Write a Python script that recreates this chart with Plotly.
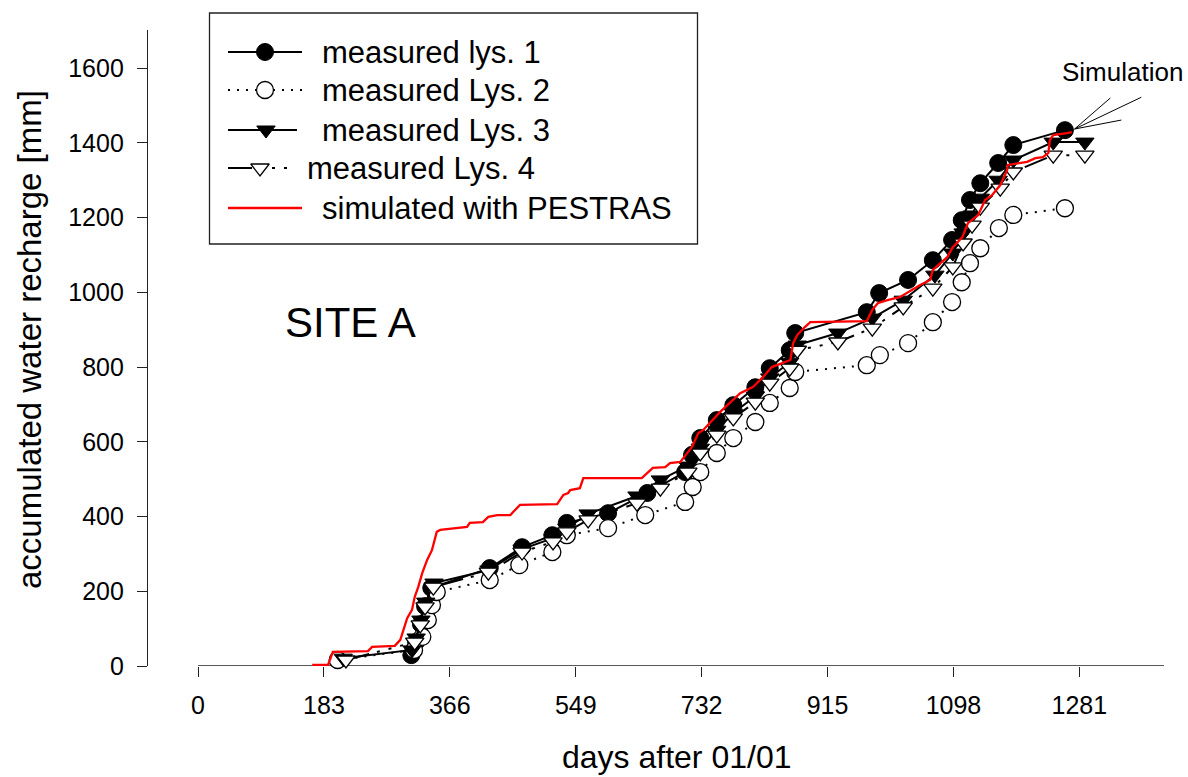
import plotly.graph_objects as go

W, H = 1188, 777

# ---------------- data ----------------
x_tick_vals = [0, 183, 366, 549, 732, 915, 1098, 1281]
y_tick_vals = [0, 200, 400, 600, 800, 1000, 1200, 1400, 1600]

lys1_day = [310, 317, 324, 330, 339, 424, 471, 515, 536, 596, 653, 708, 718, 730, 754, 778,
            810, 831, 860, 868, 972, 990, 1032, 1068, 1096, 1110, 1122, 1137, 1163, 1185, 1260]
lys1_val = [29, 64, 112, 160, 209, 262, 318, 350, 383, 409, 463, 519, 565, 610, 658, 698,
            746, 797, 845, 891, 947, 998, 1033, 1086, 1140, 1193, 1247, 1292, 1346, 1394, 1434]

lys2_day = [203, 314, 326, 334, 340, 347, 424, 467, 515, 536, 596, 650, 708, 719, 730, 754,
            778, 810, 831, 860, 868, 972, 991, 1032, 1068, 1096, 1110, 1122, 1137, 1164, 1185, 1260]
lys2_val = [16, 43, 78, 123, 163, 198, 230, 270, 305, 350, 369, 404, 439, 479, 519, 570,
            610, 653, 704, 744, 787, 805, 832, 864, 920, 974, 1027, 1078, 1118, 1172, 1207, 1225]

lys3_day = [211, 311, 317, 324, 331, 343, 423, 471, 516, 536, 567, 638, 672, 712, 730, 754,
            778, 810, 831, 860, 871, 930, 980, 1025, 1071, 1097, 1112, 1125, 1137, 1163, 1185, 1243, 1289]
lys3_val = [21, 43, 75, 123, 171, 222, 257, 313, 342, 369, 407, 455, 498, 535, 583, 631,
            677, 722, 771, 813, 859, 891, 931, 979, 1046, 1105, 1159, 1207, 1252, 1300, 1354, 1402, 1402]

lys4_day = [215, 315, 323, 330, 342, 422, 471, 516, 536, 567, 638, 672, 712, 730, 754, 778,
            810, 831, 860, 871, 930, 980, 1025, 1068, 1097, 1112, 1125, 1137, 1166, 1185, 1243, 1289]
lys4_val = [16, 64, 110, 158, 211, 251, 305, 332, 359, 391, 436, 476, 519, 570, 618, 664,
            706, 757, 797, 845, 867, 904, 961, 1011, 1068, 1132, 1180, 1228, 1279, 1322, 1367, 1367]

sim_day = [166, 189, 196, 247, 253, 286, 294, 298, 304, 311, 315, 320, 326, 333, 340, 347, 352,
           391, 395, 414, 422, 435, 454, 458, 468, 522, 526, 531, 538, 541, 555, 560, 645, 650,
           661, 679, 686, 701, 711, 718, 727, 734, 759, 788, 807, 821, 834, 861, 865, 871, 882,
           890, 972, 980, 988, 1002, 1020, 1049, 1064, 1068, 1089, 1097, 1111, 1119, 1134, 1144,
           1154, 1166, 1176, 1177, 1205, 1217, 1228, 1236, 1238, 1243, 1263, 1270]
sim_val = [3, 3, 38, 40, 51, 54, 70, 91, 128, 150, 185, 211, 249, 284, 310, 359, 364,
           372, 383, 385, 399, 404, 404, 412, 431, 433, 444, 458, 463, 471, 476, 503, 503, 511,
           530, 532, 543, 546, 570, 586, 623, 631, 680, 730, 747, 773, 800, 819, 864, 886, 907,
           920, 923, 953, 971, 979, 987, 1019, 1033, 1060, 1094, 1121, 1148, 1185, 1207, 1247,
           1260, 1287, 1327, 1341, 1349, 1359, 1362, 1373, 1407, 1421, 1426, 1429]

# "Simulation" pointer: origin and three end points (data units)
ptr_origin = (1274, 1437)
ptr_ends_day = [1326, 1371, 1342]
ptr_ends_val = [1520, 1522, 1461]

legend_labels = ["measured lys. 1", "measured Lys. 2", "measured Lys. 3",
                 "measured Lys. 4", "simulated with PESTRAS"]

# ---------------- styles ----------------
FONT = "Liberation Sans, Arial, Helvetica, sans-serif"
AX = "#222222"
X_RANGE = [-72.7, 1404]
Y_RANGE = [0, 1702]

fig = go.Figure()

s1 = dict(mode="lines+markers", line=dict(color="black", width=2),
          marker=dict(symbol="circle", size=17, color="black", line=dict(color="black", width=1)))
s2 = dict(mode="lines+markers", line=dict(color="black", width=2, dash="2px,7px"),
          marker=dict(symbol="circle", size=17, color="white", line=dict(color="black", width=1.3)))
s3 = dict(mode="lines+markers", line=dict(color="black", width=2),
          marker=dict(symbol="triangle-down", size=16, color="black", line=dict(color="black", width=1)))
s4 = dict(mode="lines+markers", line=dict(color="black", width=2, dash="24px,8px,3px,9px,3px,9px,3px,9px"),
          marker=dict(symbol="triangle-down", size=16, color="white", line=dict(color="black", width=1.3)))
s5 = dict(mode="lines", line=dict(color="#ff0000", width=2.3))

fig.add_trace(go.Scatter(x=lys1_day, y=lys1_val, name=legend_labels[0], cliponaxis=False, **s1))
fig.add_trace(go.Scatter(x=lys2_day, y=lys2_val, name=legend_labels[1], cliponaxis=False, **s2))
fig.add_trace(go.Scatter(x=lys3_day, y=lys3_val, name=legend_labels[2], cliponaxis=False, **s3))
fig.add_trace(go.Scatter(x=lys4_day, y=lys4_val, name=legend_labels[3], cliponaxis=False, **s4))
fig.add_trace(go.Scatter(x=sim_day, y=sim_val, name=legend_labels[4], cliponaxis=False, **s5))

# ---------------- custom legend (pixel overlay axes x2/y2) ----------------
leg_rows_y = [52, 90, 130, 168, 208]
leg_line_start = 228
leg_line_end = [302, 302, 297, 290, 302]
leg_marker_x = [265, 265, 266, 260]
leg_text_x = [320, 320, 320, 305, 320]
styles = [s1, s2, s3, s4]
for i in range(4):
    st = styles[i]
    fig.add_trace(go.Scatter(x=[leg_line_start, leg_line_end[i]], y=[leg_rows_y[i]] * 2,
                             xaxis="x2", yaxis="y2", mode="lines", line=st["line"],
                             showlegend=False, cliponaxis=False, hoverinfo="skip"))
    fig.add_trace(go.Scatter(x=[leg_marker_x[i]], y=[leg_rows_y[i]], xaxis="x2", yaxis="y2",
                             mode="markers", marker=st["marker"], showlegend=False, cliponaxis=False,
                             hoverinfo="skip"))
fig.add_trace(go.Scatter(x=[leg_line_start, leg_line_end[4]], y=[leg_rows_y[4]] * 2,
                         xaxis="x2", yaxis="y2", mode="lines", line=s5["line"],
                         showlegend=False, cliponaxis=False, hoverinfo="skip"))

shapes = []
# legend frame
shapes.append(dict(type="rect", xref="x2", yref="y2", x0=209.5, x1=697.5, y0=13, y1=244,
                   line=dict(color=AX, width=1.3), fillcolor="rgba(0,0,0,0)", layer="below"))
# x axis baseline starting at day 0 (offset-axis style)
shapes.append(dict(type="line", xref="x", yref="y", x0=0, x1=X_RANGE[1], y0=0, y1=0,
                   line=dict(color=AX, width=1.3), layer="below"))
# Simulation pointer lines
for dx, dy in zip(ptr_ends_day, ptr_ends_val):
    shapes.append(dict(type="line", xref="x", yref="y", x0=ptr_origin[0], y0=ptr_origin[1],
                       x1=dx, y1=dy, line=dict(color="black", width=1)))

annotations = []
for i, lab in enumerate(legend_labels):
    annotations.append(dict(text=lab, xref="x2", yref="y2", x=leg_text_x[i], y=leg_rows_y[i],
                            xanchor="left", yanchor="middle", showarrow=False,
                            font=dict(family=FONT, size=31, color="black")))
annotations.append(dict(text="SITE A", xref="x", yref="y", x=221, y=918, showarrow=False,
                        xanchor="center", yanchor="middle", font=dict(family=FONT, size=42, color="black")))
annotations.append(dict(text="Simulation", xref="x2", yref="y2", x=1122, y=72, showarrow=False,
                        xanchor="center", yanchor="middle", font=dict(family=FONT, size=26, color="black")))
annotations.append(dict(text="days after 01/01", xref="x2", yref="y2", x=676, y=776, showarrow=False,
                        xanchor="center", yanchor="bottom", borderpad=0,
                        font=dict(family=FONT, size=32, color="black")))
annotations.append(dict(text="accumulated water recharge [mm]", xref="x2", yref="y2", x=29, y=340,
                        textangle=-90, showarrow=False, xanchor="center", yanchor="middle",
                        font=dict(family=FONT, size=33, color="black")))

fig.update_layout(
    width=W, height=H, autosize=False,
    margin=dict(l=0, r=0, t=0, b=0, pad=0, autoexpand=False),
    paper_bgcolor="white", plot_bgcolor="rgba(0,0,0,0)",
    showlegend=False,
    font=dict(family=FONT, color="black"),
    xaxis=dict(domain=[148 / W, 1164 / W], range=X_RANGE, tickvals=x_tick_vals,
               ticktext=[str(v) for v in x_tick_vals], ticks="outside", ticklen=10, tickwidth=1.3,
               tickcolor=AX, showline=False, showgrid=False, zeroline=False,
               tickfont=dict(family=FONT, size=25, color="black"), ticklabelstandoff=7,
               anchor="y", fixedrange=True, automargin=False),
    yaxis=dict(domain=[1 - 666 / H, 1 - 30 / H], range=Y_RANGE, tickvals=y_tick_vals,
               ticks="outside", ticklen=10, tickwidth=1.3, tickcolor=AX, showline=True,
               linecolor=AX, linewidth=1.3, showgrid=False, zeroline=False,
               tickfont=dict(family=FONT, size=25, color="black"), ticklabelstandoff=8,
               anchor="x", fixedrange=True, automargin=False),
    xaxis2=dict(domain=[0, 1], range=[0, W], visible=False, anchor="y2", fixedrange=True),
    yaxis2=dict(domain=[0, 1], range=[H, 0], visible=False, anchor="x2", fixedrange=True),
    shapes=shapes,
    annotations=annotations,
)

fig.write_html("out.html", config={"responsive": False, "displayModeBar": False})
